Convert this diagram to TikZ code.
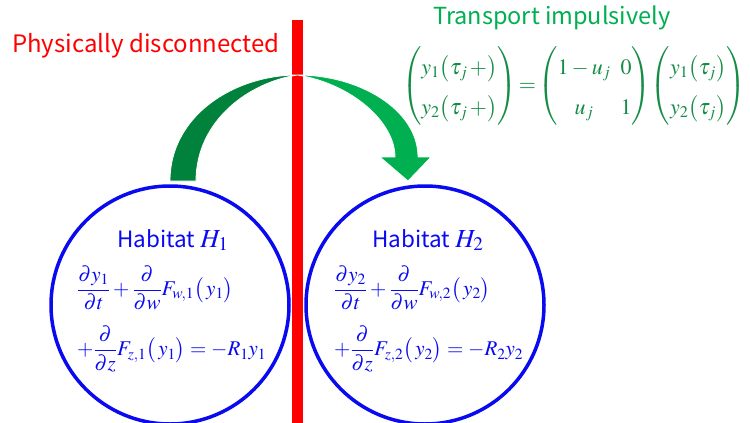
\documentclass[tikz,border=0pt]{standalone}
\usepackage{amsmath}
\usepackage{mathptmx}
\usepackage{fontspec}
\setmainfont{Liberation Serif}
\newfontfamily\gothic{Noto Sans CJK JP}
\definecolor{hblue}{RGB}{10,10,240}
\definecolor{bred}{RGB}{255,0,0}
\definecolor{tgreen}{RGB}{0,176,80}
\definecolor{mgreen}{RGB}{20,140,70}
\definecolor{dgreen}{RGB}{0,130,60}
\begin{document}
\begin{tikzpicture}[x=1pt,y=-1pt,
  habitat/.style={circle,draw=hblue,line width=3.5pt,minimum size=238pt,inner sep=0pt},
  eqtext/.style={text=hblue,anchor=west,inner sep=0pt,font=\fontsize{21}{24}\selectfont},
  title/.style={font=\gothic\fontsize{22.5}{25}\selectfont,inner sep=0pt}]
\useasboundingbox (0,0) rectangle (750,423);
\fill[white] (0,0) rectangle (750,423);
% red wall
\fill[bred] (292,20) rectangle (303,423);
\node[title,text=bred,anchor=west,font=\gothic\fontsize{24}{27}\selectfont] (dis) at (12,46) {Physically disconnected};
% habitats
\node[habitat] (h1) at (170,305) {};
\node[habitat] (h2) at (425,305) {};
\node[title,text=hblue,anchor=base] (t1) at (173,247) {Habitat \fontsize{26}{28}\selectfont$H_1$};
\node[title,text=hblue,anchor=base] (t2) at (428,247) {Habitat \fontsize{26}{28}\selectfont$H_2$};
\node[eqtext] (e11) at (77,288) {$\displaystyle\frac{\partial y_1}{\partial t}+\frac{\partial}{\partial w}F_{w,1}\bigl(\,y_1\bigr)$};
\node[eqtext] (e12) at (77,349) {$\displaystyle+\frac{\partial}{\partial z}F_{z,1}\bigl(\,y_1\bigr)=-R_1y_1$};
\node[eqtext] (e21) at (334,288) {$\displaystyle\frac{\partial y_2}{\partial t}+\frac{\partial}{\partial w}F_{w,2}\bigl(\,y_2\bigr)$};
\node[eqtext] (e22) at (334,349) {$\displaystyle+\frac{\partial}{\partial z}F_{z,2}\bigl(\,y_2\bigr)=-R_2y_2$};
% transport arrow
\coordinate (apex) at (297.5,75);
\fill[dgreen,draw=white,line width=0.8pt] (170,181) .. controls (170,115) and (235,75) .. (apex)
  .. controls (250,82) and (196,120) .. (196,181) -- cycle;
\fill[tgreen,draw=white,line width=0.8pt] (apex) .. controls (360,75) and (418,110) .. (418,157)
  -- (431,157) -- (408,181) -- (380,157) -- (395,157)
  .. controls (395,122) and (352,84) .. (apex) -- cycle;
\node[title,text=tgreen,anchor=west,font=\gothic\fontsize{23.5}{27}\selectfont] (tr) at (433,18) {Transport impulsively};
\node[text=mgreen,anchor=west,inner sep=0pt,font=\fontsize{22}{25}\selectfont] (mat) at (402,86)
 {$\renewcommand{\arraystretch}{1.6}\begin{pmatrix} y_1\bigl(\tau_j\,+\bigr)\\ y_2\bigl(\tau_j\,+\bigr)\end{pmatrix}\!=\!\begin{pmatrix}1-u_j & 0\\ u_j & 1\end{pmatrix}\!\begin{pmatrix} y_1\bigl(\tau_j\bigr)\\ y_2\bigl(\tau_j\bigr)\end{pmatrix}$};
\end{tikzpicture}
\end{document}
